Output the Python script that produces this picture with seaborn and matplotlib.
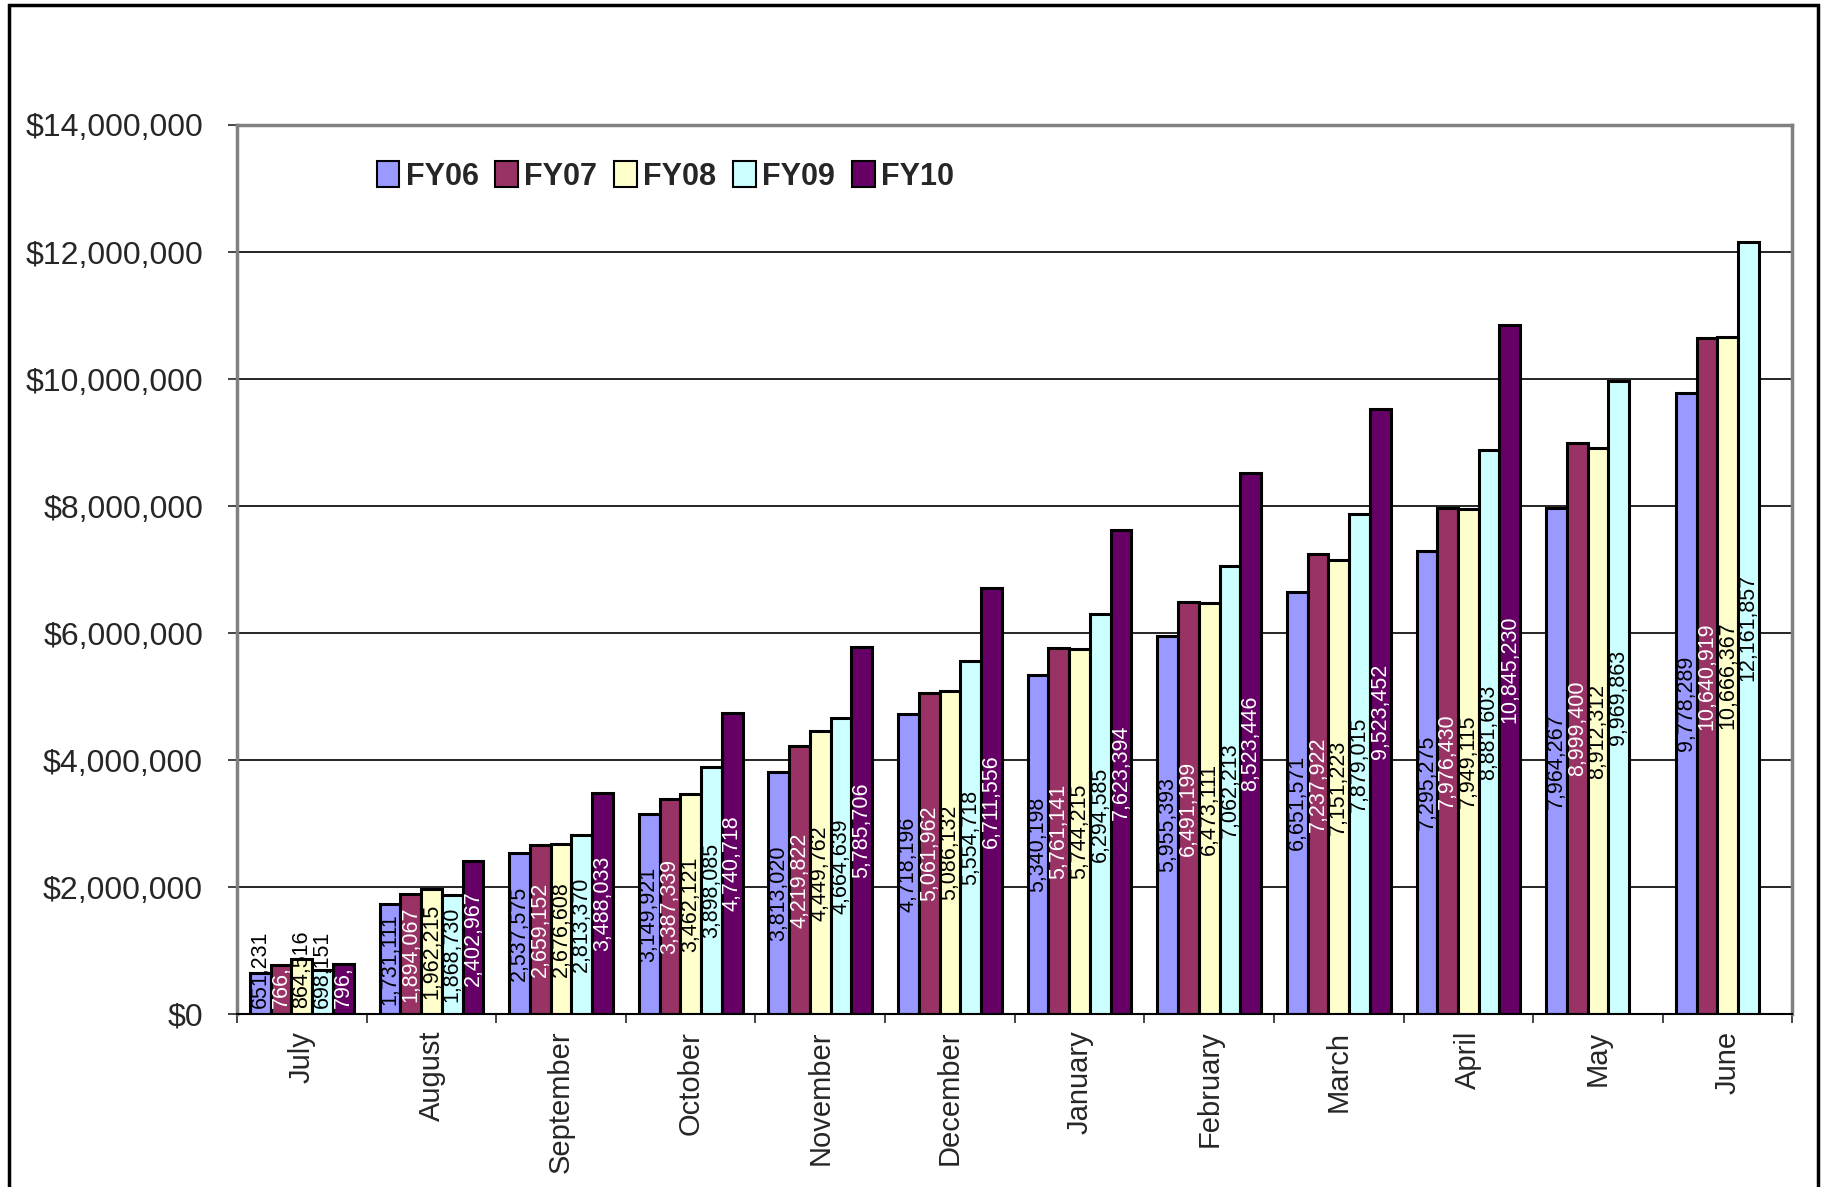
import matplotlib
matplotlib.use("Agg")
import matplotlib.pyplot as plt
import matplotlib.ticker as mticker
from matplotlib.patches import Rectangle
import seaborn as sns
import pandas as pd
import numpy as np

# data
months = ["July", "August", "September", "October", "November", "December",
          "January", "February", "March", "April", "May", "June"]
fy06 = [651231, 1731111, 2537575, 3149921, 3813020, 4718196,
        5340198, 5955393, 6651571, 7295275, 7964267, 9778289]
fy07 = [766000, 1894067, 2659152, 3387339, 4219822, 5061962,
        5761141, 6491199, 7237922, 7976430, 8999400, 10640919]
fy08 = [864516, 1962215, 2676608, 3462121, 4449762, 5086132,
        5744215, 6473111, 7151223, 7949115, 8912312, 10666367]
fy09 = [698151, 1868730, 2813370, 3898085, 4664639, 5554718,
        6294585, 7062213, 7879015, 8881603, 9969863, 12161857]
fy10 = [796000, 2402967, 3488033, 4740718, 5785706, 6711556,
        7623394, 8523446, 9523452, 10845230, np.nan, np.nan]
years = ["FY06", "FY07", "FY08", "FY09", "FY10"]
colors = ["#9999FF", "#993366", "#FFFFCC", "#CCFFFF", "#660066"]
label_colors = ["black", "white", "black", "black", "white"]
# labels that are cut short in the original
short_labels = {("FY07", 0): "766,", ("FY10", 0): "796,"}

df = pd.DataFrame({"month": months * 5,
                   "fy": np.repeat(years, len(months)),
                   "value": fy06 + fy07 + fy08 + fy09 + fy10})

sns.set_style("white")
plt.rcParams['font.family'] = ['Liberation Sans', 'DejaVu Sans']

fig = plt.figure(figsize=(18.29, 11.87), dpi=100)
ax = fig.add_axes([0.1296, 0.1457, 0.8504, 0.749])

sns.barplot(data=df, x="month", y="value", hue="fy", order=months,
            hue_order=years, palette=colors, edgecolor="black",
            linewidth=2.2, width=0.8, saturation=1, errorbar=None, ax=ax)

# value labels, rotated, centred in the bar
all_labels = []
for fy, cont, lc in zip(years, ax.containers, label_colors):
    texts = [short_labels.get((fy, i), f"{b.get_height():,.0f}")
             for i, b in enumerate(cont)]
    all_labels += ax.bar_label(cont, labels=texts, label_type="center",
                               rotation=90, color=lc, fontsize=15.5)

ax.set_ylim(0, 14000000)
ax.set_yticks(np.arange(0, 14000001, 2000000))
ax.yaxis.set_major_formatter(mticker.StrMethodFormatter("${x:,.0f}"))
ax.yaxis.grid(True, color="black", linewidth=1.2)
ax.set_axisbelow(True)
ax.set_xlim(-0.5, len(months) - 0.5)
ax.set_xlabel("")
ax.set_ylabel("")

ax.tick_params(axis="y", labelsize=23, length=6.5, width=1.2, direction="out",
               left=True, pad=18)
ax.tick_params(axis="x", which="major", labelsize=21, rotation=90, length=0, pad=12)
ax.set_xticks(np.arange(-0.5, len(months)), minor=True)
ax.tick_params(axis="x", which="minor", length=6.5, width=1.2, direction="out",
               bottom=True)

for side in ["left", "right", "top"]:
    ax.spines[side].set_color("#808080")
    ax.spines[side].set_linewidth(2.5)
ax.spines["bottom"].set_color("black")
ax.spines["bottom"].set_linewidth(1.5)

leg = ax.legend(loc="center left", bbox_to_anchor=(0.072, 0.942), ncol=5,
                frameon=False, handlelength=0.75, handleheight=0.9,
                handletextpad=0.2, columnspacing=0.55,
                prop={"weight": "bold", "size": 22})
for h in leg.legend_handles:
    h.set_edgecolor("black")
    h.set_linewidth(1.5)

# keep labels of short bars above the base line
fig.canvas.draw()
base = ax.get_window_extent().y0
for t in all_labels:
    bb = t.get_window_extent()
    if bb.y0 < base + 6:
        dy = (base + 6 - bb.y0) * 72 / fig.dpi
        t.xyann = (t.xyann[0], t.xyann[1] + dy)

# outer chart frame
fig.patches.append(Rectangle((0.005, -0.02), 0.989, 1.016, transform=fig.transFigure,
                             fill=False, edgecolor="black", linewidth=2.5))

fig.savefig("out.png", dpi=100)
